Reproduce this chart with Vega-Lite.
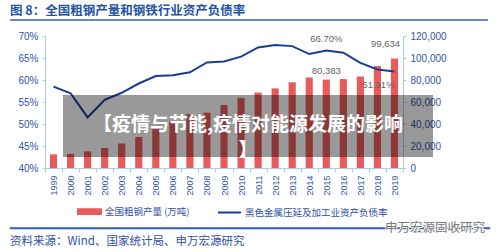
{
  "$schema": "https://vega.github.io/schema/vega-lite/v6.json",
  "width": 358,
  "height": 132,
  "autosize": {"type": "none"},
  "padding": {"left": 45, "top": 36, "right": 97, "bottom": 84},
  "background": "white",
  "config": {
    "view": {"stroke": null},
    "font": "Noto Sans CJK SC",
    "axis": {
      "labelFont": "Liberation Sans",
      "labelColor": "#2F55A8",
      "domainColor": "#A9CBEA",
      "tickColor": "#A9CBEA",
      "grid": false,
      "title": null
    }
  },
  "title": {
    "text": "图 8：全国粗钢产量和钢铁行业资产负债率",
    "anchor": "start",
    "frame": "group",
    "dx": -35,
    "offset": 2,
    "fontSize": 12.5,
    "fontWeight": "bold",
    "color": "#2352A6",
    "font": "Noto Sans CJK SC"
  },
  "datasets": {
    "steel": [
      {"year": "1999", "output": 12426, "ratio": 0.585},
      {"year": "2000", "output": 12850, "ratio": 0.570},
      {"year": "2001", "output": 15163, "ratio": 0.515},
      {"year": "2002", "output": 18237, "ratio": 0.555},
      {"year": "2003", "output": 22234, "ratio": 0.571},
      {"year": "2004", "output": 28291, "ratio": 0.592},
      {"year": "2005", "output": 35324, "ratio": 0.609},
      {"year": "2006", "output": 41915, "ratio": 0.611},
      {"year": "2007", "output": 48929, "ratio": 0.6175},
      {"year": "2008", "output": 50305, "ratio": 0.640},
      {"year": "2009", "output": 57218, "ratio": 0.642},
      {"year": "2010", "output": 63723, "ratio": 0.653},
      {"year": "2011", "output": 68528, "ratio": 0.674},
      {"year": "2012", "output": 72388, "ratio": 0.6795},
      {"year": "2013", "output": 77904, "ratio": 0.677},
      {"year": "2014", "output": 82270, "ratio": 0.659},
      {"year": "2015", "output": 80383, "ratio": 0.667},
      {"year": "2016", "output": 80837, "ratio": 0.662},
      {"year": "2017", "output": 83173, "ratio": 0.639},
      {"year": "2018", "output": 92826, "ratio": 0.624},
      {"year": "2019", "output": 99634, "ratio": 0.6191}
    ]
  },
  "layer": [
    {
      "data": {"name": "steel"},
      "encoding": {
        "x": {
          "field": "year",
          "type": "ordinal",
          "scale": {"paddingInner": 0, "paddingOuter": 0},
          "axis": {
            "labelAngle": -90,
            "labelFontSize": 9,
            "tickSize": 4,
            "tickBand": "extent",
            "labelPadding": 3
          }
        }
      },
      "layer": [
        {
          "encoding": {
            "y": {
              "field": "output",
              "type": "quantitative",
              "scale": {"domain": [0, 120000], "nice": false},
              "axis": {
                "orient": "right",
                "values": [0, 20000, 40000, 60000, 80000, 100000, 120000],
                "labelExpr": "format(datum.value, ',')",
                "labelFontSize": 10,
                "tickSize": 3,
                "labelPadding": 4
              }
            }
          },
          "layer": [
            {
              "mark": {"type": "bar", "width": {"band": 0.42}},
              "encoding": {
                "color": {
                  "datum": "全国粗钢产量 (万吨)",
                  "scale": {
                    "domain": ["全国粗钢产量 (万吨)", "黑色金属压延及加工业资产负债率"],
                    "range": ["#E95B5B", "#1A3C96"]
                  },
                  "legend": {
                    "orient": "none",
                    "legendX": 32,
                    "legendY": 163,
                    "direction": "horizontal",
                    "title": null,
                    "padding": 0,
                    "labelFont": "Noto Sans CJK SC",
                    "labelFontSize": 9.5,
                    "labelColor": "#2F50A6",
                    "labelOffset": 3,
                    "symbolSize": 529,
                    "columnPadding": 24,
                    "encode": {
                      "symbols": {
                        "update": {
                          "shape": {"signal": "datum.value === '全国粗钢产量 (万吨)' ? 'M-1,-0.2H1V0.2H-1Z' : 'M-1,0H1'"},
                          "fill": {"signal": "datum.value === '全国粗钢产量 (万吨)' ? '#E95B5B' : 'transparent'"},
                          "stroke": {"signal": "datum.value === '全国粗钢产量 (万吨)' ? 'transparent' : '#1A3C96'"},
                          "strokeWidth": {"value": 2},
                          "opacity": {"value": 1}
                        }
                      }
                    }
                  }
                }
              }
            },
            {
              "transform": [{"filter": "datum.year === '2015'"}],
              "mark": {"type": "text", "dy": -9, "fontSize": 9.5, "font": "Liberation Sans", "color": "#666666"},
              "encoding": {"text": {"field": "output", "type": "quantitative", "format": ","}}
            },
            {
              "transform": [{"filter": "datum.year === '2019'"}],
              "mark": {"type": "text", "dy": -14, "dx": -9, "fontSize": 9.5, "font": "Liberation Sans", "color": "#666666"},
              "encoding": {"text": {"field": "output", "type": "quantitative", "format": ","}}
            }
          ]
        },
        {
          "encoding": {
            "y": {
              "field": "ratio",
              "type": "quantitative",
              "scale": {"domain": [0.4, 0.7], "nice": false, "zero": false},
              "axis": {
                "orient": "left",
                "values": [0.4, 0.45, 0.5, 0.55, 0.6, 0.65, 0.7],
                "labelExpr": "format(datum.value, '.0%')",
                "labelFontSize": 10,
                "tickSize": 3,
                "labelPadding": 4
              }
            }
          },
          "layer": [
            {
              "mark": {"type": "line", "strokeWidth": 2},
              "encoding": {"color": {"datum": "黑色金属压延及加工业资产负债率"}}
            },
            {
              "transform": [{"filter": "datum.year === '2015'"}],
              "mark": {"type": "text", "dy": -12, "fontSize": 9.5, "font": "Liberation Sans", "color": "#666666"},
              "encoding": {"text": {"field": "ratio", "type": "quantitative", "format": ".2%"}}
            },
            {
              "transform": [{"filter": "datum.year === '2019'"}],
              "mark": {"type": "text", "dy": 13, "dx": -16, "fontSize": 9.5, "font": "Liberation Sans", "color": "#666666"},
              "encoding": {"text": {"field": "ratio", "type": "quantitative", "format": ".2%"}}
            }
          ]
        }
      ],
      "resolve": {"scale": {"y": "independent"}}
    },
    {
      "data": {"values": [{}]},
      "layer": [
        {
          "mark": {"type": "rect", "fill": "#000000", "opacity": 0.4},
          "encoding": {
            "x": {"datum": 1.056, "type": "quantitative", "scale": {"domain": [0, 21], "nice": false, "zero": false}, "axis": null},
            "x2": {"datum": 22.76},
            "y": {"datum": 0.5659, "type": "quantitative", "scale": {"domain": [0.4, 0.7], "nice": false, "zero": false}, "axis": null},
            "y2": {"datum": 0.425}
          }
        },
        {
          "mark": {
            "type": "text",
            "text": ["【疫情与节能,疫情对能源发展的影响", "】"],
            "lineHeight": 26,
            "fontSize": 19,
            "fontWeight": "bold",
            "font": "Noto Sans CJK SC",
            "color": "#FFFFFF",
            "align": "center",
            "baseline": "middle"
          },
          "encoding": {
            "x": {"datum": 11.91, "type": "quantitative", "scale": {"domain": [0, 21], "nice": false, "zero": false}, "axis": null},
            "y": {"datum": 0.4977, "type": "quantitative", "scale": {"domain": [0.4, 0.7], "nice": false, "zero": false}, "axis": null}
          }
        },
        {
          "mark": {"type": "rect", "fill": "#3560B4"},
          "encoding": {
            "x": {"datum": -2.053, "type": "quantitative", "scale": {"domain": [0, 21], "nice": false, "zero": false}, "axis": null},
            "x2": {"datum": 25.99},
            "y": {"datum": 0.7381, "type": "quantitative", "scale": {"domain": [0.4, 0.7], "nice": false, "zero": false}, "axis": null},
            "y2": {"datum": 0.7347}
          }
        },
        {
          "mark": {"type": "rect", "fill": "#3560B4", "stroke": "#3560B4", "strokeWidth": 0.6, "opacity": 1},
          "encoding": {
            "x": {"datum": -2.053, "type": "quantitative", "scale": {"domain": [0, 21], "nice": false, "zero": false}, "axis": null},
            "x2": {"datum": 26.1},
            "y": {"datum": 0.2648, "type": "quantitative", "scale": {"domain": [0.4, 0.7], "nice": false, "zero": false}, "axis": null},
            "y2": {"datum": 0.2614}
          }
        },
        {
          "mark": {
            "type": "text",
            "text": "资料来源：Wind、国家统计局、申万宏源研究",
            "fontSize": 11.5,
            "font": "Noto Sans CJK SC",
            "color": "#2F50A6",
            "align": "left",
            "baseline": "middle"
          },
          "encoding": {
            "x": {"datum": -2.053, "type": "quantitative", "scale": {"domain": [0, 21], "nice": false, "zero": false}, "axis": null},
            "y": {"datum": 0.2318, "type": "quantitative", "scale": {"domain": [0.4, 0.7], "nice": false, "zero": false}, "axis": null}
          }
        },
        {
          "mark": {
            "type": "text",
            "text": "申万宏源固收研究",
            "fontSize": 12.5,
            "font": "Noto Sans CJK SC",
            "color": "#7A7A7A",
            "align": "right",
            "baseline": "middle",
            "stroke": "#FFFFFF",
            "strokeWidth": 2,
            "strokeOpacity": 0.9
          },
          "encoding": {
            "x": {"datum": 25.81, "type": "quantitative", "scale": {"domain": [0, 21], "nice": false, "zero": false}, "axis": null},
            "y": {"datum": 0.2636, "type": "quantitative", "scale": {"domain": [0.4, 0.7], "nice": false, "zero": false}, "axis": null}
          }
        },
        {
          "mark": {
            "type": "text",
            "text": "申万宏源固收研究",
            "fontSize": 12.5,
            "font": "Noto Sans CJK SC",
            "color": "#7A7A7A",
            "align": "right",
            "baseline": "middle"
          },
          "encoding": {
            "x": {"datum": 25.81, "type": "quantitative", "scale": {"domain": [0, 21], "nice": false, "zero": false}, "axis": null},
            "y": {"datum": 0.2636, "type": "quantitative", "scale": {"domain": [0.4, 0.7], "nice": false, "zero": false}, "axis": null}
          }
        }
      ]
    }
  ],
  "resolve": {"scale": {"x": "independent", "y": "independent"}}
}
